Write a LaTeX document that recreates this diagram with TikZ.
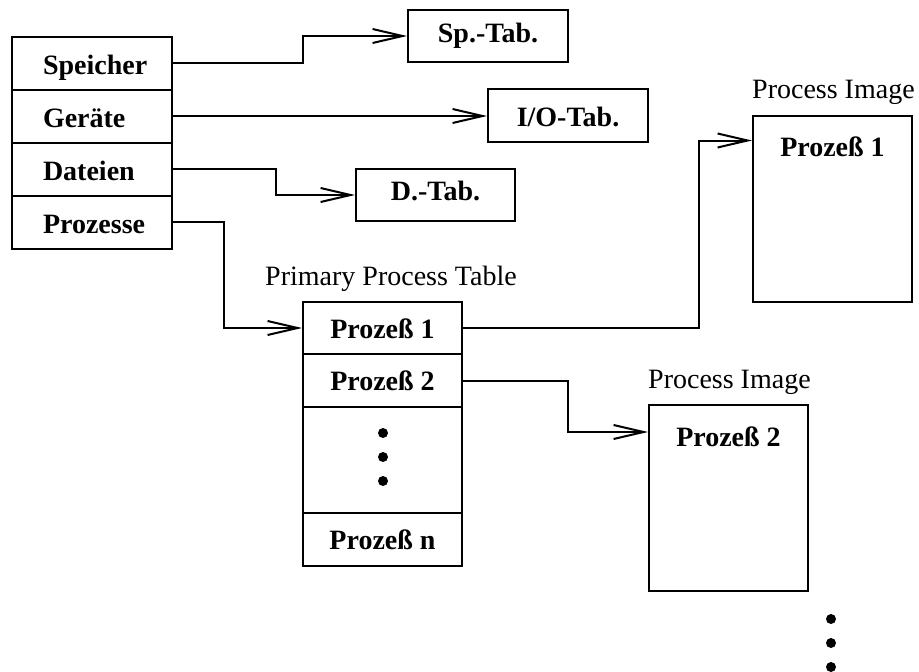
\documentclass[tikz,border=0pt]{standalone}
\usepackage{fontspec}
\setmainfont{Liberation Serif}
\usetikzlibrary{arrows.meta}
\newcommand\lcell[1]{\makebox[98pt][l]{#1}}
\tikzset{
  box/.style={draw, line width=2pt, inner sep=0pt, font=\fontsize{28}{32}\selectfont\bfseries, text height=22pt, text depth=0pt},
  lbl/.style={inner sep=0pt, font=\fontsize{28}{32}\selectfont, anchor=base west},
  arr/.style={line width=2pt, -{Straight Barb[length=30pt,width=14pt]}},
  dotn/.style={circle, fill, inner sep=0pt, minimum size=10pt},
}
\begin{document}
\begin{tikzpicture}[x=1pt,y=-1pt]
\useasboundingbox (0,0) rectangle (919,672);
% left table
\node[box, minimum width=160pt, minimum height=53pt] (c1) at (92,63) {\lcell{Speicher}};
\node[box, minimum width=160pt, minimum height=53pt] (c2) at (92,116) {\lcell{Geräte}};
\node[box, minimum width=160pt, minimum height=53pt] (c3) at (92,169) {\lcell{Dateien}};
\node[box, minimum width=160pt, minimum height=53pt] (c4) at (92,222) {\lcell{Prozesse}};
% tables
\node[box, minimum width=160pt, minimum height=52pt, text height=12pt] (sptab) at (488,36) {Sp.-Tab.};
\node[box, minimum width=160pt, minimum height=53pt] (iotab) at (568,115.5) {I/O-Tab.};
\node[box, minimum width=159pt, minimum height=52pt, text height=10pt] (dtab) at (435.5,195) {D.-Tab.};
% primary process table
\node[lbl, anchor=base] (ptl) at (391,285) {Primary Process Table};
\node[box, minimum width=159pt, minimum height=52pt, text height=20pt] (p1) at (382.5,328) {Prozeß 1};
\node[box, minimum width=159pt, minimum height=53pt, text height=19pt] (p2) at (382.5,380.5) {Prozeß 2};
\node[box, minimum width=159pt, minimum height=106pt] (pd) at (382.5,460) {};
\node[box, minimum width=159pt, minimum height=53pt, text height=19pt] (pn) at (382.5,539.5) {Prozeß n};
\node[dotn] (d1) at (383,433) {};
\node[dotn] (d2) at (383,457) {};
\node[dotn] (d3) at (383,481) {};
% process images
\node[box, minimum width=159pt, text height=41pt, text depth=145pt] (img1) at (832.5,208.5) {Prozeß 1};
\node[lbl] (il1) at ([yshift=16pt]img1.north west) {Process Image};
\node[box, minimum width=159pt, text height=41pt, text depth=145pt] (img2) at (728.5,498) {Prozeß 2};
\node[lbl] (il2) at ([yshift=16pt]img2.north west) {Process Image};
% bottom dots
\node[dotn] (e1) at (831,619) {};
\node[dotn] (e2) at (831,643) {};
\node[dotn] (e3) at (831,667) {};
% connectors
\coordinate (k1) at (303,0);
\coordinate (k3) at (276,0);
\coordinate (k4) at (224,0);
\coordinate (k5) at (699,0);
\coordinate (k6) at (568,0);
\draw[arr] (c1.east) -- (c1.east -| k1) |- (sptab.west);
\draw[arr] (c2.east) -- (c2.east -| iotab.west);
\draw[arr] (c3.east) -- (c3.east -| k3) |- (dtab.west);
\draw[arr] (c4.east) -- (c4.east -| k4) |- (p1.west);
\coordinate (t1) at ([yshift=-26pt]img1.north west);
\coordinate (t2) at ([yshift=-28pt]img2.north west);
\draw[arr] (p1.east) -- (p1.east -| k5) |- (t1);
\draw[arr] (p2.east) -- (p2.east -| k6) |- (t2);
\end{tikzpicture}
\end{document}
